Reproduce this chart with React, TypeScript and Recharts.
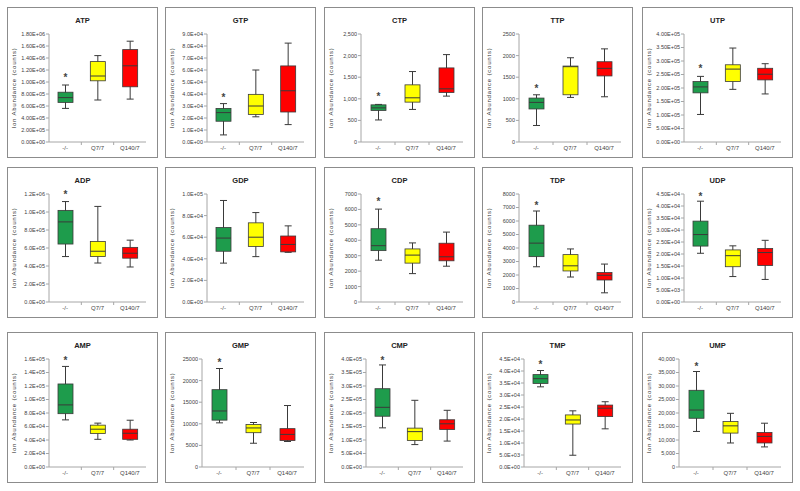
import React from 'react';
import { ComposedChart, Bar, XAxis, YAxis } from 'recharts';

const GROUPS = ['-/-', 'Q7/7', 'Q140/7'];
const COLORS = ['#1e9c4c', '#ffff00', '#ff0000'];

// rows: [min, q1, median, q3, max] for -/-, Q7/7, Q140/7
const ATP = [[5.6e5, 6.6e5, 7.4e5, 8.3e5, 9.5e5], [7.0e5, 1.02e6, 1.1e6, 1.34e6, 1.44e6], [7.15e5, 9.2e5, 1.27e6, 1.54e6, 1.68e6]];
const GTP = [[5.9e3, 1.73e4, 2.45e4, 2.8e4, 3.2e4], [2.1e4, 2.3e4, 3.0e4, 3.97e4, 6.0e4], [1.45e4, 2.5e4, 4.27e4, 6.34e4, 8.24e4]];
const CTP = [[510, 730, 790, 860, 870], [754, 923, 1023, 1323, 1631], [1062, 1146, 1231, 1715, 2023]];
const TTP = [[382, 765, 917, 1017, 1093], [1032, 1093, 1743, 1758, 1950], [1047, 1529, 1705, 1858, 2156]];
const UTP = [[1.02e5, 1.82e5, 2.04e5, 2.24e5, 2.43e5], [1.95e5, 2.24e5, 2.7e5, 2.86e5, 3.48e5], [1.78e5, 2.3e5, 2.51e5, 2.73e5, 2.9e5]];
const ADP = [[5.05e5, 6.44e5, 8.9e5, 1.018e6, 1.116e6], [4.33e5, 5.05e5, 5.64e5, 6.73e5, 1.062e6], [3.89e5, 4.87e5, 5.42e5, 6.07e5, 6.87e5]];
const GDP = [[3.6e4, 4.7e4, 5.92e4, 6.9e4, 9.4e4], [4.2e4, 5.14e4, 6.0e4, 7.33e4, 8.28e4], [4.6e4, 4.64e4, 5.33e4, 6.11e4, 7.05e4]];
const CDP = [[2710, 3330, 3650, 4750, 6020], [1840, 2520, 3040, 3440, 3830], [2320, 2670, 2930, 3810, 4530]];
const TDP = [[2610, 3360, 4360, 5690, 6740], [1850, 2300, 2680, 3510, 3930], [680, 1630, 1980, 2180, 2810]];
const UDP = [[2.03e4, 2.33e4, 2.81e4, 3.37e4, 4.2e4], [1.06e4, 1.47e4, 1.93e4, 2.17e4, 2.34e4], [9.4e3, 1.52e4, 2.06e4, 2.23e4, 2.57e4]];
const AMP = [[6.98e4, 7.9e4, 9.2e4, 1.23e5, 1.49e5], [4.1e4, 4.95e4, 5.6e4, 6.2e4, 6.5e4], [4.0e4, 4.1e4, 5.0e4, 5.6e4, 6.93e4]];
const GMP = [[10220, 10850, 12970, 17900, 22800], [5500, 7940, 9040, 9830, 10300], [5900, 6130, 7550, 8880, 14230]];
const CMP = [[1.45e5, 1.88e5, 2.21e5, 2.9e5, 3.78e5], [8.3e4, 9.8e4, 1.31e5, 1.44e5, 2.47e5], [9.6e4, 1.39e5, 1.6e5, 1.75e5, 2.1e5]];
const TMP = [[3.34e4, 3.48e4, 3.68e4, 3.85e4, 4.02e4], [4.9e3, 1.79e4, 1.96e4, 2.17e4, 2.34e4], [1.59e4, 2.1e4, 2.45e4, 2.58e4, 2.72e4]];
const UMP = [[13170, 18050, 21100, 28410, 35370], [8900, 12560, 15240, 16830, 19880], [7440, 8900, 11340, 12800, 16220]];

// asterisk above the -/- box
const STARS = [1.08e6, 3.75e4, 1054, 1261, 2.73e5, 1.2e6, null, 6540, 7190, 4.41e4, 1.58e5, 24370, 3.98e5, 4.3e4, 37560];

const TITLES = ['ATP', 'GTP', 'CTP', 'TTP', 'UTP', 'ADP', 'GDP', 'CDP', 'TDP', 'UDP', 'AMP', 'GMP', 'CMP', 'TMP', 'UMP'];

const TICKS = [
  [0, 2e5, 4e5, 6e5, 8e5, 1e6, 1.2e6, 1.4e6, 1.6e6, 1.8e6],
  [0, 1e4, 2e4, 3e4, 4e4, 5e4, 6e4, 7e4, 8e4, 9e4],
  [0, 500, 1000, 1500, 2000, 2500],
  [0, 500, 1000, 1500, 2000, 2500],
  [0, 5e4, 1e5, 1.5e5, 2e5, 2.5e5, 3e5, 3.5e5, 4e5],
  [0, 2e5, 4e5, 6e5, 8e5, 1e6, 1.2e6],
  [0, 2e4, 4e4, 6e4, 8e4, 1e5],
  [0, 1000, 2000, 3000, 4000, 5000, 6000, 7000],
  [0, 1000, 2000, 3000, 4000, 5000, 6000, 7000, 8000],
  [0, 5e3, 1e4, 1.5e4, 2e4, 2.5e4, 3e4, 3.5e4, 4e4, 4.5e4],
  [0, 2e4, 4e4, 6e4, 8e4, 1e5, 1.2e5, 1.4e5, 1.6e5],
  [0, 5000, 10000, 15000, 20000, 25000],
  [0, 5e4, 1e5, 1.5e5, 2e5, 2.5e5, 3e5, 3.5e5, 4e5],
  [0, 5e3, 1e4, 1.5e4, 2e4, 2.5e4, 3e4, 3.5e4, 4e4, 4.5e4],
  [0, 5000, 10000, 15000, 20000, 25000, 30000, 35000, 40000],
];

const FORMATS = ['e2', 'e1', 'comma', 'plain', 'e2', 'e1', 'e1', 'plain', 'plain', 'e2', 'e1', 'plain', 'e1', 'e1', 'comma'];

const BOXES = [ATP, GTP, CTP, TTP, UTP, ADP, GDP, CDP, TDP, UDP, AMP, GMP, CMP, TMP, UMP];

const PANEL_X = [7, 165, 324, 482, 642];
const PANEL_Y = [7, 167, 332];
const PW = 151;
const PH = 151;
const CW = 148;
const CH = 148;
const FONT = '"Liberation Sans", Arial, sans-serif';

const fmtTick = (kind: string) => (v: number) => {
  if (kind === 'comma') return v.toLocaleString('en-US');
  if (kind === 'plain') return String(v);
  const d = kind === 'e2' ? 2 : 1;
  if (v === 0) return (0).toFixed(d) + 'E+00';
  const e = Math.floor(Math.log10(v) + 1e-9);
  const m = v / Math.pow(10, e);
  return m.toFixed(d) + 'E+' + String(e).padStart(2, '0');
};

const BoxShape = (props: any) => {
  const { x, y, width, height, payload } = props;
  if (!payload || height == null) return null;
  const { min, q1, med, q3, max, star, color } = payload;
  const top = Math.min(y, y + height);
  const h = Math.abs(height);
  const py = (v: number) => top + ((max - v) / (max - min)) * h;
  const cx = x + width / 2;
  const cap = 3.5;
  const line = '#3a3a3a';
  return (
    <g>
      <line x1={cx} x2={cx} y1={py(max)} y2={py(min)} stroke={line} strokeWidth={1} />
      <line x1={cx - cap} x2={cx + cap} y1={py(max)} y2={py(max)} stroke={line} strokeWidth={1} />
      <line x1={cx - cap} x2={cx + cap} y1={py(min)} y2={py(min)} stroke={line} strokeWidth={1} />
      <rect x={x} y={py(q3)} width={width} height={py(q1) - py(q3)} fill={color} stroke={line} strokeWidth={0.8} />
      <line x1={x} x2={x + width} y1={py(med)} y2={py(med)} stroke={line} strokeWidth={1} />
      {star != null && (
        <text x={cx} y={py(star) + 4} textAnchor="middle" fontSize={10} fontWeight="bold" fill="#444" fontFamily={FONT}>
          *
        </text>
      )}
    </g>
  );
};

const Panel = ({ idx }: { idx: number }) => {
  const fmt = FORMATS[idx];
  const ticks = TICKS[idx];
  const yw = fmt.startsWith('e') ? 41 : 36;
  const margin = { top: 26, right: 10, bottom: 0, left: 0 };
  const band = (CW - yw - margin.right - margin.left) / GROUPS.length;
  const data = GROUPS.map((g, i) => ({
    name: g,
    min: BOXES[idx][i][0],
    q1: BOXES[idx][i][1],
    med: BOXES[idx][i][2],
    q3: BOXES[idx][i][3],
    max: BOXES[idx][i][4],
    color: COLORS[i],
    star: i === 0 ? STARS[idx] : null,
  }));
  const left = PANEL_X[idx % 5];
  const top = PANEL_Y[Math.floor(idx / 5)];

  const renderXTick = (p: any) => (
    <g>
      <text x={p.x} y={p.y + 8} textAnchor="middle" fontSize={6} fill="#444" fontFamily={FONT}>
        {p.payload.value}
      </text>
      {p.index < GROUPS.length - 1 && (
        <line x1={p.x + band / 2} x2={p.x + band / 2} y1={p.y} y2={p.y + 3} stroke="#a6a6a6" />
      )}
    </g>
  );

  return (
    <div
      style={{
        position: 'absolute',
        left,
        top,
        width: PW,
        height: PH,
        boxSizing: 'border-box',
        border: '1.5px solid #8c8c8c',
        background: '#fff',
      }}
    >
      <div
        style={{
          position: 'absolute',
          top: 8,
          left: 0,
          right: 0,
          textAlign: 'center',
          fontFamily: FONT,
          fontWeight: 'bold',
          fontSize: 7.5,
          color: '#222',
        }}
      >
        {TITLES[idx]}
      </div>
      <ComposedChart width={CW} height={CH} data={data} margin={margin}>
        <XAxis
          dataKey="name"
          height={14}
          tickSize={0}
          tickMargin={0}
          interval={0}
          axisLine={{ stroke: '#a6a6a6' }}
          tickLine={false}
          tick={renderXTick}
        />
        <YAxis
          type="number"
          width={yw}
          domain={[0, ticks[ticks.length - 1]]}
          ticks={ticks}
          interval={0}
          tickFormatter={fmtTick(fmt)}
          tickSize={3}
          tickMargin={1}
          axisLine={{ stroke: '#a6a6a6' }}
          tickLine={{ stroke: '#a6a6a6' }}
          tick={{ fontSize: 5.5, fill: '#404040', fontFamily: FONT }}
          label={{
            value: 'Ion Abundance (counts)',
            angle: -90,
            position: 'insideLeft',
            offset: 6,
            style: { textAnchor: 'middle', fontSize: 6, letterSpacing: 0.8, fill: '#333', fontFamily: FONT },
          }}
        />
        <Bar
          dataKey={(d: any) => [d.min, d.max]}
          barSize={15}
          shape={BoxShape}
          isAnimationActive={false}
        />
      </ComposedChart>
    </div>
  );
};

export default function App() {
  return (
    <div style={{ position: 'absolute', left: 0, top: 0, width: 800, height: 491, background: '#fff' }}>
      {TITLES.map((t, i) => (
        <Panel key={t} idx={i} />
      ))}
    </div>
  );
}
